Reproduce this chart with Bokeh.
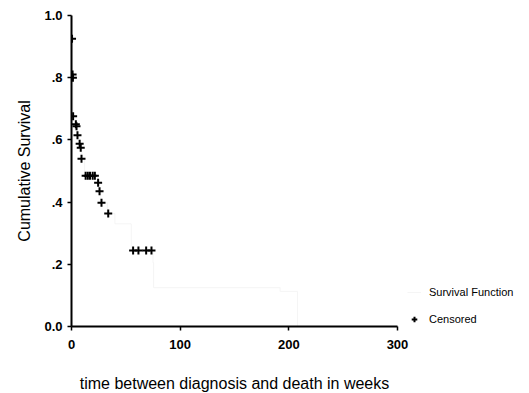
from bokeh.plotting import figure
from bokeh.models import Range1d, FixedTicker, Legend, LegendItem
from bokeh.embed import file_html
from bokeh.resources import INLINE

# Kaplan-Meier step curve (drawn very faint, as in the scan)
surv_t = [0, 0.5, 1, 1.5, 4, 5.5, 7, 8.5, 9.5, 12, 24, 25.5, 27, 33, 40, 55, 75, 75.5, 192, 208, 250]
surv_s = [1.0, 0.925, 0.80, 0.676, 0.65, 0.615, 0.588, 0.575, 0.539, 0.485, 0.462, 0.435, 0.398, 0.363, 0.33, 0.244, 0.205, 0.125, 0.113, 0.0, 0.0]

# Censored observations
cens_t = [0.5, 1.0, 1.3, 1.5, 4.0, 4.6, 5.5, 7.5, 8.5, 9.2, 13, 15, 17, 19.5, 21.5, 24.5, 25.8, 27.6, 33.8, 56.7, 61.6, 68.7, 73.6]
cens_s = [0.925, 0.81, 0.80, 0.676, 0.65, 0.644, 0.615, 0.588, 0.575, 0.539, 0.485, 0.485, 0.485, 0.485, 0.485, 0.462, 0.435, 0.398, 0.363, 0.244, 0.244, 0.244, 0.244]

x_ticks = [0, 100, 200, 300]
y_ticks = [0.0, 0.2, 0.4, 0.6, 0.8, 1.0]
y_tick_labels = ["0.0", ".2", ".4", ".6", ".8", "1.0"]

p = figure(frame_width=326, frame_height=311, output_backend="svg", toolbar_location=None,
           x_range=Range1d(0, 300), y_range=Range1d(0, 1.0),
           min_border_left=71, min_border_right=118, min_border_top=15, min_border_bottom=60)
p.outline_line_color = None
p.grid.visible = False
p.background_fill_color = "white"

line = p.step(surv_t, surv_s, mode="after", line_color="#f2f2f2", line_width=0.8)
cens = p.scatter(cens_t, cens_s, marker="cross", size=8, line_width=2, color="black")

FONT = "Liberation Sans"
for ax in (p.xaxis[0], p.yaxis[0]):
    ax.axis_line_width = 2
    ax.axis_line_color = "black"
    ax.major_tick_line_width = 1.5
    ax.major_tick_in = 0
    ax.major_tick_out = 4
    ax.minor_tick_line_color = None
    ax.major_label_text_font = FONT
    ax.major_label_text_font_size = "13px"
    ax.major_label_text_font_style = "bold"
    ax.major_label_text_color = "black"
    ax.axis_label_text_font = FONT
    ax.axis_label_text_font_size = "16px"
    ax.axis_label_text_font_style = "normal"
    ax.axis_label_text_color = "black"

p.xaxis.ticker = FixedTicker(ticks=x_ticks)
p.yaxis.ticker = FixedTicker(ticks=y_ticks)
p.yaxis.major_label_overrides = {t: lab for t, lab in zip(y_ticks, y_tick_labels)}
p.xaxis.axis_label = "time between diagnosis and death in weeks"
p.yaxis.axis_label = "Cumulative Survival"
p.xaxis.axis_label_standoff = 23
p.yaxis.axis_label_standoff = 8
p.xaxis.major_label_standoff = 9
p.yaxis.major_label_standoff = 5

legend = Legend(items=[LegendItem(label="Survival Function", renderers=[line]),
                       LegendItem(label="Censored", renderers=[cens])],
                location=(10, 0), border_line_color=None, background_fill_alpha=0,
                label_text_font=FONT, label_text_font_size="11px",
                label_text_color="black",
                glyph_width=14, glyph_height=14, spacing=13, padding=0, margin=0,
                label_standoff=8)
p.add_layout(legend, "right")

open("out.html", "w").write(file_html(p, INLINE))
